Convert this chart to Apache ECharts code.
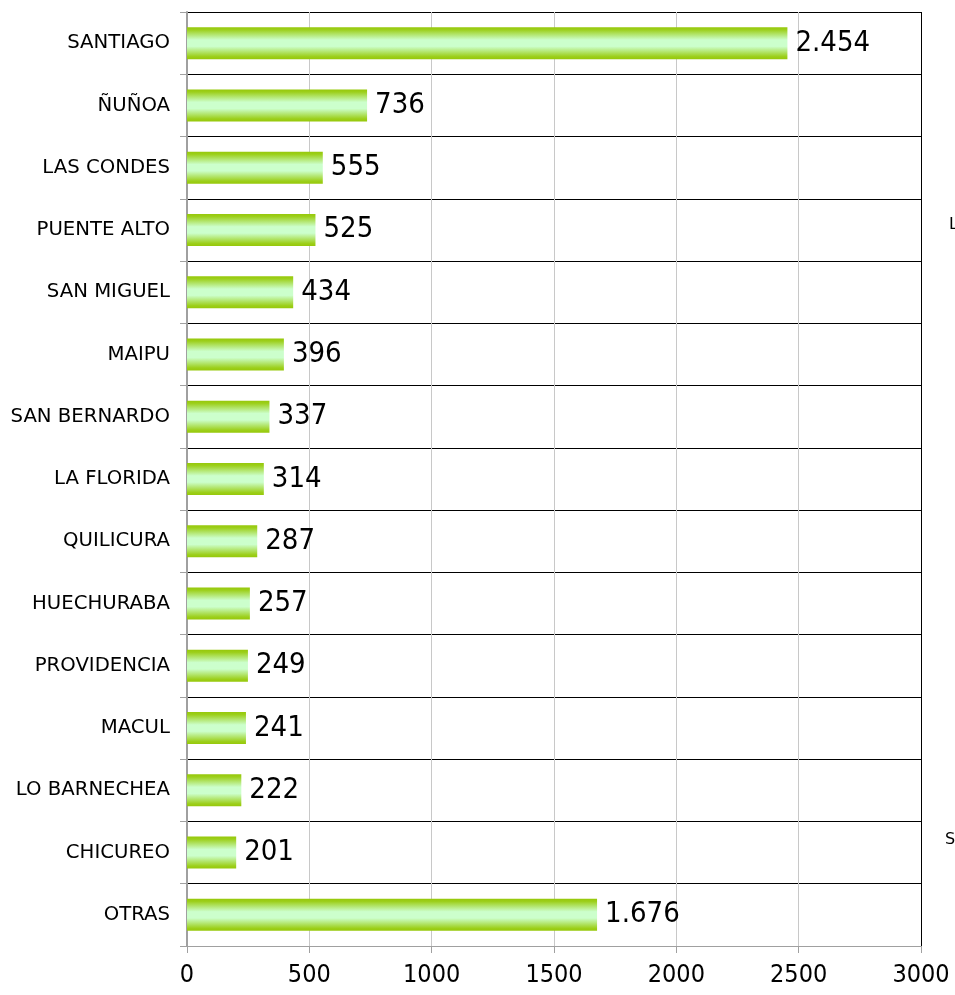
<!DOCTYPE html>
<html>
<head>
<meta charset="utf-8">
<script src="https://cdn.jsdelivr.net/npm/echarts@6/dist/echarts.min.js"></script>
<style>
  html, body { margin: 0; padding: 0; background: #fff; }
  #chart { width: 955px; height: 995px; }
</style>
</head>
<body>
<div id="chart"></div>
<script>
// comunas, de arriba hacia abajo
const comunas = ['SANTIAGO', 'ÑUÑOA', 'LAS CONDES', 'PUENTE ALTO', 'SAN MIGUEL', 'MAIPU',
  'SAN BERNARDO', 'LA FLORIDA', 'QUILICURA', 'HUECHURABA', 'PROVIDENCIA', 'MACUL',
  'LO BARNECHEA', 'CHICUREO', 'OTRAS'];
const totales = [2454, 736, 555, 525, 434, 396, 337, 314, 287, 257, 249, 241, 222, 201, 1676];
const ejeX = { min: 0, max: 3000, interval: 500 };

const fontNum = '"DejaVu Sans Condensed", Tahoma, sans-serif';
const fontCat = '"DejaVu Sans", Tahoma, sans-serif';

// separador de miles con punto
function fmt(v) {
  return String(v).replace(/\B(?=(\d{3})+(?!\d))/g, '.');
}

const chart = echarts.init(document.getElementById('chart'));
chart.setOption({
  animation: false,
  grid: { left: 187, right: 34, top: 12, bottom: 49 },
  xAxis: {
    type: 'value',
    min: ejeX.min, max: ejeX.max, interval: ejeX.interval,
    axisLine: { show: true, lineStyle: { color: '#a0a0a0' } },
    axisTick: { show: true, length: 7, lineStyle: { color: '#a0a0a0' } },
    axisLabel: { fontFamily: fontNum, fontSize: 25, color: '#000', margin: 17, formatter: v => String(v) },
    splitLine: { lineStyle: { color: ['#c8c8c8', '#c8c8c8', '#c8c8c8', '#c8c8c8', '#c8c8c8', '#c8c8c8', '#000'], width: 1 } }
  },
  yAxis: {
    type: 'category',
    inverse: true,
    data: comunas,
    axisLine: { show: true, lineStyle: { color: '#a0a0a0', width: 2 } },
    axisTick: { show: true, length: 7, lineStyle: { color: '#a0a0a0' } },
    axisLabel: { fontFamily: fontCat, fontSize: 19.7, color: '#000', margin: 17 },
    splitLine: { show: true, lineStyle: { color: '#000', width: 1 } }
  },
  series: [{
    type: 'bar',
    data: totales,
    barWidth: 32,
    itemStyle: {
      color: new echarts.graphic.LinearGradient(0, 0, 0, 1, [
        { offset: 0, color: '#96c80a' },
        { offset: 0.08, color: '#9ccf1a' },
        { offset: 0.4, color: '#ccffcc' },
        { offset: 0.6, color: '#ccffcc' },
        { offset: 0.92, color: '#9ccf1a' },
        { offset: 1, color: '#96c80a' }
      ])
    },
    label: {
      show: true,
      position: 'right',
      distance: 8,
      fontFamily: fontNum,
      fontSize: 29,
      color: '#000',
      formatter: p => fmt(p.value)
    }
  }],
  graphic: [
    { type: 'text', left: 949, top: 217, style: { text: 'L', font: '16px ' + fontCat, fill: '#000' } },
    { type: 'text', left: 945, top: 832, style: { text: 'S', font: '16px ' + fontCat, fill: '#000' } }
  ]
});
</script>
</body>
</html>
